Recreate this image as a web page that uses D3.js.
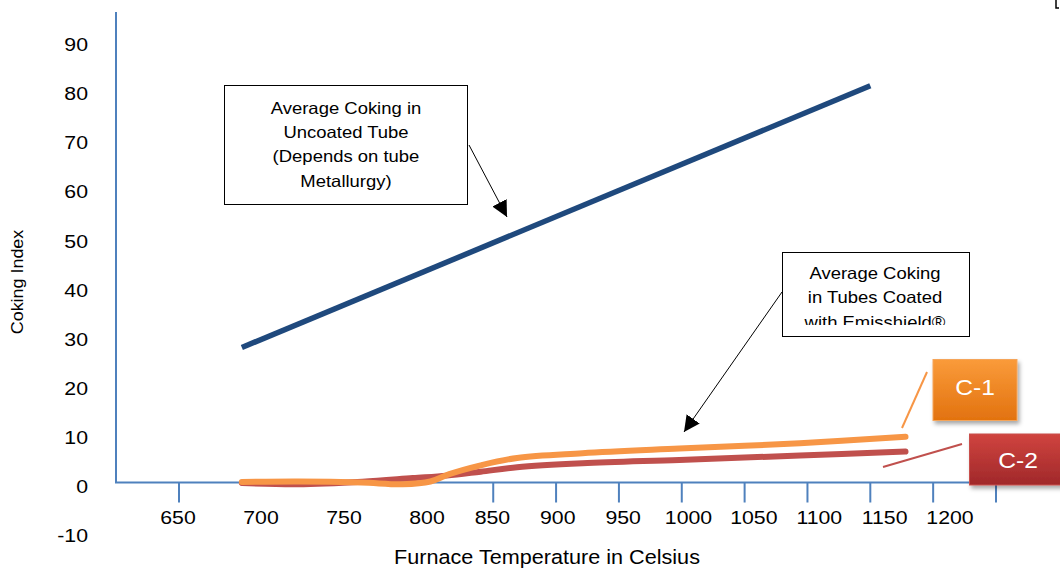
<!DOCTYPE html>
<html><head><meta charset="utf-8">
<script src="https://cdn.jsdelivr.net/npm/d3@7/dist/d3.min.js"></script>
<style>html,body{margin:0;padding:0;background:#fff;}svg{display:block;font-family:"Liberation Sans",Arial,sans-serif;}</style>
</head><body>
<svg id="c" width="1060" height="569"></svg>
<script>
// ---- data ----
const axisTemps = [650,700,750,800,850,900,950,1000,1050,1100,1150,1200,1250,1300];
const tickMarkTemps = [650,900,950,1000,1050,1100,1150,1200,1250,1300];
const xLabels = [650,700,750,800,850,900,950,1000,1050,1100,1150,1200];
const yLabels = [-10,0,10,20,30,40,50,60,70,80,90];

const uncoatedTemp = [700,1200];
const uncoatedVal  = [27.5,80.8];

const c1Temp = [700,745,795,828,850,865,890,919,971,1048,1144,1228];
const c1Val  = [0.1,0.2,0.0,-0.35,0.2,1.7,3.5,5.0,5.95,6.9,8.0,9.3];

const c2Temp = [700,744,796,836,863,890,919,971,1048,1144,1228];
const c2Val  = [-0.1,-0.35,0.15,0.9,1.4,2.2,3.1,3.9,4.6,5.5,6.3];

const box1Lines = ["Average Coking in","Uncoated Tube","(Depends on tube","Metallurgy)"];
const box2Lines = ["Average Coking","in Tubes Coated","with Emisshield®"];

// ---- setup ----
const SX = 1.12; // horizontal text stretch of the reference
const svg = d3.select("#c");
const x = d3.scaleLinear().domain([650,1300]).range([179,996]);
const xLab = d3.scaleLinear().domain([650,800,1200]).range([178,427,950]);
const y = d3.scaleLinear().domain([0,90]).range([482.5,40.6]);
const axisColor = "#4F81BD";

function txt(g, s, px, py, size, anchor, fill){
  return g.append("text").attr("transform",`translate(${px},${py}) scale(${SX},1)`)
    .attr("text-anchor",anchor||"middle").attr("dominant-baseline","central")
    .attr("font-size",size).attr("fill",fill||"#000").text(s);
}

const defs = svg.append("defs");
const sh = defs.append("filter").attr("id","sh").attr("x","-20%").attr("y","-20%").attr("width","150%").attr("height","160%");
sh.append("feDropShadow").attr("dx",2).attr("dy",3).attr("stdDeviation",2).attr("flood-color","#000").attr("flood-opacity",0.35);
function grad(id, c0, c1){
  const g = defs.append("linearGradient").attr("id",id).attr("x1",0).attr("y1",0).attr("x2",0).attr("y2",1);
  g.append("stop").attr("offset","0%").attr("stop-color",c0);
  g.append("stop").attr("offset","100%").attr("stop-color",c1);
}
grad("gOr","#FA9B3A","#E2720F");
grad("gRd","#D0443F","#A0282A");
defs.append("marker").attr("id","ah").attr("viewBox","0 0 10 10").attr("refX",10).attr("refY",5)
  .attr("markerWidth",16).attr("markerHeight",16).attr("markerUnits","userSpaceOnUse").attr("orient","auto")
  .append("path").attr("d","M0,0 L10,5 L0,10 Z").attr("fill","#000");
defs.append("clipPath").attr("id","clip2").append("rect").attr("x",783).attr("y",253).attr("width",186).attr("height",72);

// ---- axes ----
const ax = svg.append("g");
ax.append("line").attr("x1",116).attr("x2",116).attr("y1",y(95.8)).attr("y2",y(0))
  .attr("stroke",axisColor).attr("stroke-width",2);
ax.append("line").attr("x1",115).attr("x2",x(1300)+1).attr("y1",y(0)).attr("y2",y(0))
  .attr("stroke",axisColor).attr("stroke-width",2);
ax.selectAll("line.tk").data(tickMarkTemps).join("line").attr("class","tk")
  .attr("x1",d=>x(d)).attr("x2",d=>x(d)).attr("y1",y(0)).attr("y2",y(0)+20)
  .attr("stroke",axisColor).attr("stroke-width",2);

xLabels.forEach(v=>txt(ax, String(v), xLab(v), 517, 19));
yLabels.forEach(v=>txt(ax, String(v), 88, y(v)+4, 19, "end"));

txt(svg,"Furnace Temperature in Celsius",547,557,19.3);
svg.append("text").attr("transform",`translate(18,282) rotate(-90) scale(${SX},1)`)
  .attr("text-anchor","middle").attr("dominant-baseline","central").attr("font-size",16).text("Coking Index");

// ---- series ----
const line = d3.line().x(d=>x(d[0])).y(d=>y(d[1]));
svg.append("path").datum(d3.zip(uncoatedTemp,uncoatedVal)).attr("d",line)
  .attr("fill","none").attr("stroke","#1F497D").attr("stroke-width",5.5);
const sm = d3.line().x(d=>x(d[0])).y(d=>y(d[1])).curve(d3.curveCatmullRom.alpha(0.5));
svg.append("path").datum(d3.zip(c2Temp,c2Val)).attr("d",sm)
  .attr("fill","none").attr("stroke","#C0504D").attr("stroke-width",6).attr("stroke-linecap","round");
svg.append("path").datum(d3.zip(c1Temp,c1Val)).attr("d",sm)
  .attr("fill","none").attr("stroke","#F79646").attr("stroke-width",6).attr("stroke-linecap","round");

// ---- annotations ----
const a = svg.append("g");
a.append("rect").attr("x",224.5).attr("y",85.5).attr("width",243).attr("height",119)
  .attr("fill","#fff").attr("stroke","#000").attr("stroke-width",1);
box1Lines.forEach((s,i)=>txt(a,s,346,108+i*24.3,16.5));
a.append("line").attr("x1",469).attr("y1",145).attr("x2",507).attr("y2",217)
  .attr("stroke","#000").attr("stroke-width",1).attr("marker-end","url(#ah)");

a.append("rect").attr("x",782.5).attr("y",252.5).attr("width",187).attr("height",84)
  .attr("fill","#fff").attr("stroke","#000").attr("stroke-width",1);
const b2 = a.append("g").attr("clip-path","url(#clip2)");
box2Lines.forEach((s,i)=>txt(b2,s,875,273+i*24.5,16.5));
a.append("line").attr("x1",782).attr("y1",292).attr("x2",684).attr("y2",432)
  .attr("stroke","#000").attr("stroke-width",1).attr("marker-end","url(#ah)");

// C-1 / C-2 callouts
a.append("line").attr("x1",927).attr("y1",372).attr("x2",902).attr("y2",428)
  .attr("stroke","#F79646").attr("stroke-width",2);
a.append("line").attr("x1",962).attr("y1",444).attr("x2",883).attr("y2",467)
  .attr("stroke","#C0504D").attr("stroke-width",2);
a.append("rect").attr("x",933).attr("y",359.5).attr("width",84).attr("height",61)
  .attr("fill","url(#gOr)").attr("stroke","#F5A55A").attr("stroke-width",1).attr("filter","url(#sh)");
txt(a,"C-1",975,387,22,"middle","#fff");
a.append("rect").attr("x",969.5).attr("y",434).attr("width",100).attr("height",51)
  .attr("fill","url(#gRd)").attr("stroke","#C8504C").attr("stroke-width",1).attr("filter","url(#sh)");
txt(a,"C-2",1018,460,22,"middle","#fff");

// corner mark
svg.append("path").attr("d","M1056,0 V8 H1059").attr("fill","none").attr("stroke","#000").attr("stroke-width",1.5);
</script>
</body></html>
